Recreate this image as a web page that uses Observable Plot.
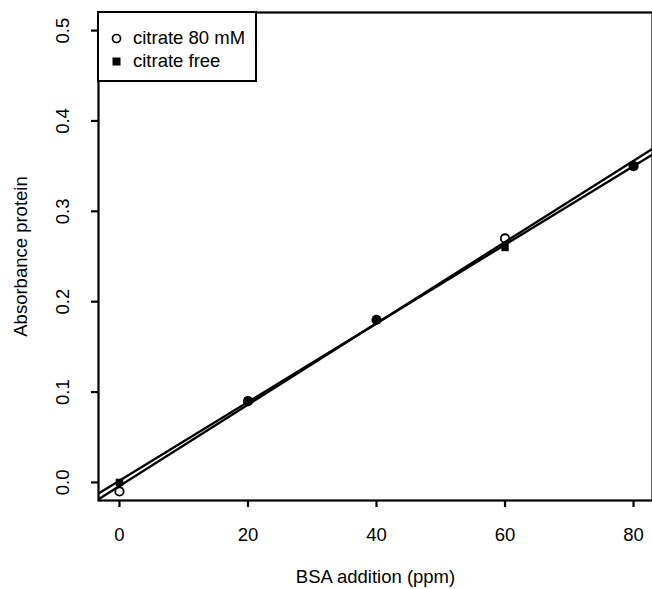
<!DOCTYPE html>
<html>
<head>
<meta charset="utf-8">
<script src="https://cdn.jsdelivr.net/npm/d3@7"></script>
<script src="https://cdn.jsdelivr.net/npm/@observablehq/plot@0.6"></script>
<style>
  html, body { margin: 0; padding: 0; background: #fff; }
  #wrap { position: relative; width: 652px; height: 589px; overflow: hidden; font-family: "Liberation Sans", Arial, sans-serif; }
  #legend { position: absolute; left: 97px; top: 11px; width: 160px; height: 71px; box-sizing: border-box; border: 2px solid #000; background: #fff; }
  #legend .row { position: absolute; left: 0; height: 20px; display: flex; align-items: center; font-size: 18.5px; color: #000; white-space: nowrap; }
  #legend svg { margin-left: 12px; margin-right: 11px; }
</style>
</head>
<body>
<div id="wrap">
  <div id="chart"></div>
  <div id="legend"></div>
</div>
<script>
// ---- data ----
const bsa = [0, 20, 40, 60, 80];
const citrate80 = [-0.01, 0.09, 0.18, 0.27, 0.35];
const citrateFree = [0.0, 0.09, 0.18, 0.26, 0.35];
const seriesNames = ["citrate 80 mM", "citrate free"];
const xTicks = [0, 20, 40, 60, 80];
const yTicks = [0.0, 0.1, 0.2, 0.3, 0.4, 0.5];
const xLabel = "BSA addition (ppm)";
const yLabel = "Absorbance protein";

const xDomain = [-3.2, 83.2];
const yDomain = [-0.02, 0.52];

const pts80 = bsa.map((x, i) => ({x, y: citrate80[i]}));
const ptsFree = bsa.map((x, i) => ({x, y: citrateFree[i]}));

function fit(pts) {
  const mx = d3.mean(pts, d => d.x), my = d3.mean(pts, d => d.y);
  const b = d3.sum(pts, d => (d.x - mx) * (d.y - my)) / d3.sum(pts, d => (d.x - mx) ** 2);
  const a = my - b * mx;
  return xDomain.map(x => ({x, y: a + b * x}));
}
const line80 = fit(pts80);
const lineFree = fit(ptsFree);

const font = "Liberation Sans, Arial, sans-serif";

const chart = Plot.plot({
  width: 652,
  height: 589,
  marginLeft: 98,
  marginTop: 12,
  marginBottom: 89,
  marginRight: 0,
  style: {fontFamily: font, fontSize: "18.5px", background: "#fff", color: "#000"},
  x: {domain: xDomain, range: [98.4, 653.6]},
  y: {domain: yDomain},
  marks: [
    Plot.line(line80, {x: "x", y: "y", stroke: "#000", strokeWidth: 2.3, clip: true}),
    Plot.line(lineFree, {x: "x", y: "y", stroke: "#000", strokeWidth: 2.3, clip: true}),
    Plot.dot(ptsFree, {x: "x", y: "y", symbol: "square", r: 4.2, fill: "#000", stroke: "none"}),
    Plot.dot(pts80, {x: "x", y: "y", symbol: "circle", r: 4.2, fill: "none", stroke: "#000", strokeWidth: 1.8}),
    Plot.frame({stroke: "#000", strokeWidth: 2.2}),
    Plot.axisX({ticks: xTicks, tickSize: 7, tickPadding: 20, tickFormat: d => String(d), fontSize: 18.5, label: null, strokeWidth: 2.2}),
    Plot.axisY({ticks: yTicks, tickSize: 7, tickFormat: () => "", label: null, strokeWidth: 2.2}),
    Plot.text(yTicks, {y: d => d, text: d => d.toFixed(1), frameAnchor: "left", dx: -35, rotate: -90, textAnchor: "middle", fontSize: 18.5}),
    Plot.text([xLabel], {frameAnchor: "bottom", dy: 82, text: d => d, textAnchor: "middle", fontSize: 18.5}),
    Plot.text([yLabel], {frameAnchor: "left", dx: -77, rotate: -90, text: d => d, textAnchor: "middle", fontSize: 18.5})
  ]
});
document.getElementById("chart").appendChild(chart);

// ---- legend ----
const legend = document.getElementById("legend");
const rows = [
  {name: seriesNames[0], top: 15, sym: '<svg width="11" height="11"><circle cx="5.5" cy="5.5" r="4" fill="none" stroke="#000" stroke-width="1.7"/></svg>'},
  {name: seriesNames[1], top: 38, sym: '<svg width="11" height="11"><rect x="1.5" y="1.5" width="8" height="8" fill="#000"/></svg>'}
];
rows.forEach(r => {
  const div = document.createElement("div");
  div.className = "row";
  div.style.top = r.top + "px";
  div.innerHTML = r.sym + "<span>" + r.name + "</span>";
  legend.appendChild(div);
});
</script>
</body>
</html>
